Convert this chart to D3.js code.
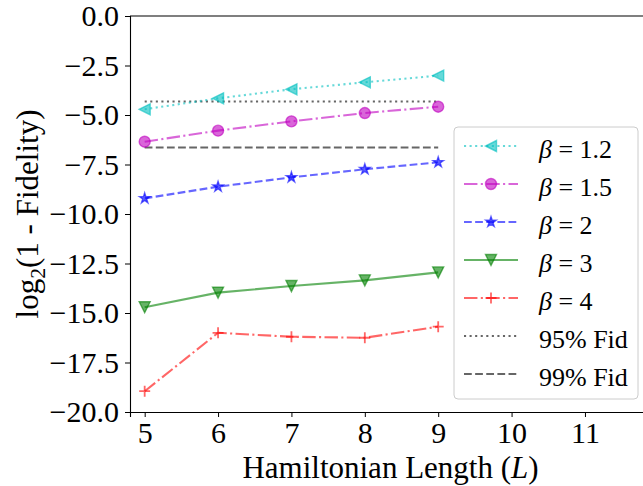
<!DOCTYPE html>
<html>
<head>
<meta charset="utf-8">
<script src="https://cdn.jsdelivr.net/npm/d3@7"></script>
<style>
  html, body { margin: 0; padding: 0; background: #fff; }
  svg { display: block; }
  text { font-family: "Liberation Serif", "Times New Roman", serif; fill: #000; }
</style>
</head>
<body>
<div id="chart"></div>
<script>
// ---- data ----
const lengths = [5, 6, 7, 8, 9];
const beta12 = [-4.71, -4.16, -3.70, -3.35, -3.01];
const beta15 = [-6.35, -5.79, -5.32, -4.90, -4.58];
const beta2  = [-9.21, -8.62, -8.15, -7.74, -7.39];
const beta3  = [-14.71, -13.97, -13.64, -13.35, -12.95];
const beta4  = [-18.95, -16.00, -16.20, -16.25, -15.69];
const fid95 = -4.32;
const fid99 = -6.64;
const betaLabels = ["1.2", "1.5", "2", "3", "4"];
const xTicks = [5, 6, 7, 8, 9, 10, 11];
const yTicks = [0, -2.5, -5, -7.5, -10, -12.5, -15, -17.5, -20];

const W = 643, H = 486;
const m = { left: 130, top: 16, right: 651, bottom: 412 };

const svg = d3.select("#chart").append("svg").attr("width", W).attr("height", H)
  .attr("font-family", "Liberation Serif, Times New Roman, serif");

const x = d3.scaleLinear().domain([4.8, 11.9]).range([m.left, m.right]);
const y = d3.scaleLinear().domain([-20, 0]).range([m.bottom, m.top]);

const FS = 30;   // tick labels
const AFS = 31;  // axis titles
const LFS = 26;  // legend

// marker shapes
const R = 5.5;
const markers = {
  triLeft: r => `M${-r},0L${r},${r}L${r},${-r}Z`,
  circle: r => `M${r},0A${r},${r} 0 1,1 ${-r},0A${r},${r} 0 1,1 ${r},0Z`,
  star: r => {
    let p = "";
    for (let i = 0; i < 10; i++) {
      const rr = i % 2 === 0 ? r : r * 0.38;
      const a = -Math.PI / 2 + i * Math.PI / 5;
      p += (i === 0 ? "M" : "L") + (rr * Math.cos(a)).toFixed(2) + "," + (rr * Math.sin(a)).toFixed(2);
    }
    return p + "Z";
  },
  triDown: r => `M0,${r}L${-r},${-r}L${r},${-r}Z`,
  plus: r => `M${-r},0H${r}M0,${-r}V${r}`
};

const lw = 2.1;
const series = [
  { vals: beta12, color: "#00bfbf", dash: `${lw},${1.65*lw}`, marker: "triLeft", filled: true },
  { vals: beta15, color: "#bf00bf", dash: `${6.4*lw},${1.6*lw},${lw},${1.6*lw}`, marker: "circle", filled: true },
  { vals: beta2,  color: "#0000ff", dash: `${3.7*lw},${1.6*lw}`, marker: "star", filled: true },
  { vals: beta3,  color: "#008000", dash: null, marker: "triDown", filled: true },
  { vals: beta4,  color: "#ff0000", dash: `${6.4*lw},${1.6*lw},${lw},${1.6*lw}`, marker: "plus", filled: false }
];
series.forEach((s, i) => s.label = betaLabels[i]);
const alpha = 0.6;

svg.append("clipPath").attr("id", "clip").append("rect")
  .attr("x", m.left).attr("y", m.top).attr("width", m.right - m.left).attr("height", m.bottom - m.top);

const plot = svg.append("g").attr("clip-path", "url(#clip)");
const line = d3.line().x(d => x(d[0])).y(d => y(d[1]));

plot.append("path")
  .attr("d", line([[lengths[0], fid95], [lengths[lengths.length - 1], fid95]]))
  .attr("fill", "none").attr("stroke", "#000").attr("stroke-opacity", 0.6)
  .attr("stroke-width", lw).attr("stroke-dasharray", `${lw},${1.65*lw}`);
plot.append("path")
  .attr("d", line([[lengths[0], fid99], [lengths[lengths.length - 1], fid99]]))
  .attr("fill", "none").attr("stroke", "#000").attr("stroke-opacity", 0.6)
  .attr("stroke-width", lw).attr("stroke-dasharray", `${3.7*lw},${1.6*lw}`);

function drawMarker(g, s, cx, cy) {
  g.append("path")
    .attr("transform", `translate(${cx},${cy})`)
    .attr("d", markers[s.marker](R))
    .attr("fill", s.filled ? s.color : "none")
    .attr("fill-opacity", alpha)
    .attr("stroke", s.color).attr("stroke-opacity", alpha)
    .attr("stroke-width", s.filled ? 1.4 : 1.8);
}

series.forEach(s => {
  const pts = lengths.map((L, i) => [L, s.vals[i]]);
  plot.append("path").attr("d", line(pts))
    .attr("fill", "none").attr("stroke", s.color).attr("stroke-opacity", alpha)
    .attr("stroke-width", lw).attr("stroke-dasharray", s.dash);
  pts.forEach(p => drawMarker(plot, s, x(p[0]), y(p[1])));
});

const xAxis = svg.append("g").attr("transform", `translate(0,${m.bottom})`)
  .call(d3.axisBottom(x).tickValues(xTicks).tickFormat(d3.format("d")).tickSizeOuter(0).tickSize(5).tickPadding(5));
const yAxis = svg.append("g").attr("transform", `translate(${m.left},0)`)
  .call(d3.axisLeft(y).tickValues(yTicks).tickFormat(d => d3.format(".1f")(d).replace("-", "\u2212")).tickSizeOuter(0).tickSize(5).tickPadding(6));
[xAxis, yAxis].forEach(a => {
  a.attr("font-family", null).attr("font-size", null);
  a.selectAll("text").style("font-size", FS + "px").attr("fill", "#000");
  a.selectAll("line").attr("stroke", "#000").attr("stroke-width", 1);
  a.select(".domain").attr("stroke", "#000").attr("stroke-width", 1.1);
});
svg.append("line").attr("x1", m.left).attr("x2", m.right).attr("y1", m.top).attr("y2", m.top)
  .attr("stroke", "#000").attr("stroke-width", 1.1);

const xl = svg.append("text")
  .attr("x", (m.left + m.right) / 2).attr("y", 478)
  .attr("text-anchor", "middle").style("font-size", AFS + "px");
xl.append("tspan").text("Hamiltonian Length (");
xl.append("tspan").attr("font-style", "italic").text("L");
xl.append("tspan").text(")");

const yl = svg.append("text")
  .attr("transform", `translate(38,${(m.top + m.bottom) / 2}) rotate(-90)`)
  .attr("text-anchor", "middle").style("font-size", AFS + "px");
yl.append("tspan").text("log");
yl.append("tspan").attr("dy", 7).style("font-size", (AFS * 0.7) + "px").text("2");
yl.append("tspan").attr("dy", -7).text("(1 - Fidelity)");

const lg = svg.append("g");
lg.append("rect").attr("x", 454).attr("y", 127).attr("width", 184).attr("height", 272)
  .attr("rx", 4).attr("fill", "#fff").attr("fill-opacity", 0.8)
  .attr("stroke", "#cccccc").attr("stroke-width", 1);
const rowY = i => 146 + i * 38;
const lx1 = 464, lx2 = 518, tx = 539;
series.forEach((s, i) => {
  const yy = rowY(i);
  lg.append("line").attr("x1", lx1).attr("x2", lx2).attr("y1", yy).attr("y2", yy)
    .attr("stroke", s.color).attr("stroke-opacity", alpha).attr("stroke-width", lw)
    .attr("stroke-dasharray", s.dash);
  drawMarker(lg, s, (lx1 + lx2) / 2, yy);
  const t = lg.append("text").attr("x", tx).attr("y", yy + 12).style("font-size", LFS + "px");
  t.append("tspan").attr("font-style", "italic").text("β");
  t.append("tspan").text(" = " + s.label);
});
const refs = [
  { label: "95% Fid", dash: `${lw},${1.65*lw}` },
  { label: "99% Fid", dash: `${3.7*lw},${1.6*lw}` }
];
refs.forEach((r, j) => {
  const yy = rowY(5 + j);
  lg.append("line").attr("x1", lx1).attr("x2", lx2).attr("y1", yy).attr("y2", yy)
    .attr("stroke", "#000").attr("stroke-opacity", 0.6).attr("stroke-width", lw)
    .attr("stroke-dasharray", r.dash);
  lg.append("text").attr("x", tx).attr("y", yy + 12).style("font-size", LFS + "px").text(r.label);
});
</script>
</body>
</html>
